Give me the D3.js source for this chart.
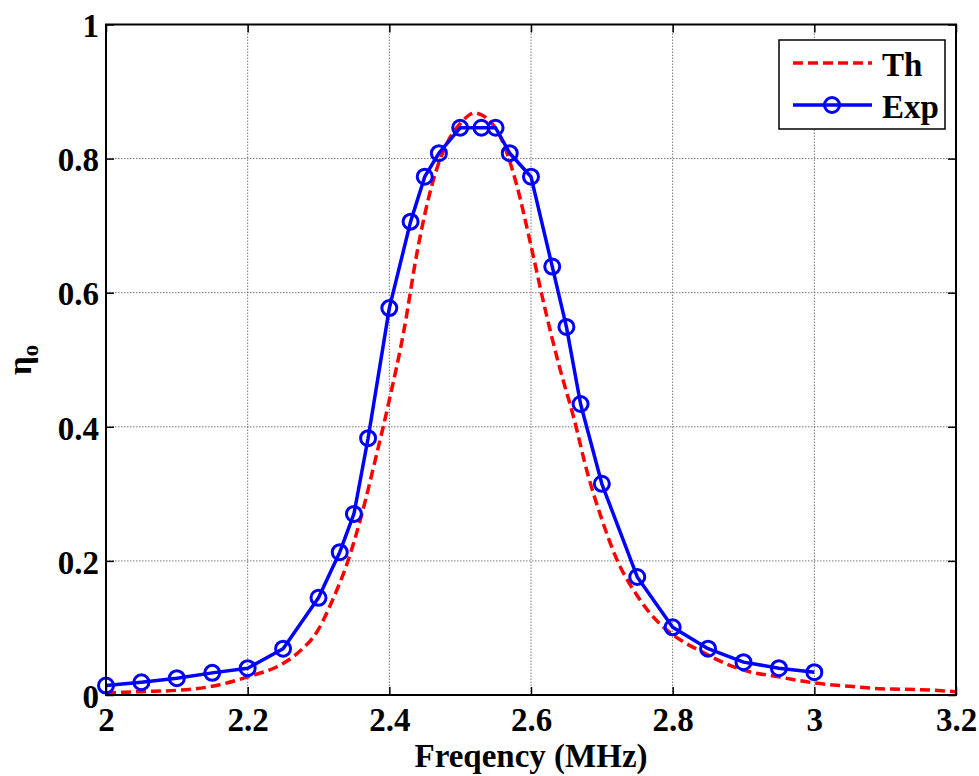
<!DOCTYPE html>
<html>
<head>
<meta charset="utf-8">
<script src="https://cdn.jsdelivr.net/npm/d3@7"></script>
<style>
  html, body { margin: 0; padding: 0; background: #fff; }
  svg { display: block; }
  text { font-family: "Liberation Serif", "Times New Roman", serif; font-weight: bold; fill: #000; }
</style>
</head>
<body>
<svg id="chart" width="979" height="776"></svg>
<script>
// ---- data ----
const expFreq = [2.00, 2.05, 2.10, 2.15, 2.20, 2.25, 2.30, 2.33, 2.35, 2.37, 2.40, 2.43, 2.45, 2.47, 2.50, 2.53, 2.55, 2.57, 2.60, 2.63, 2.65, 2.67, 2.70, 2.75, 2.80, 2.85, 2.90, 2.95, 3.00];
const expEta  = [0.014, 0.019, 0.025, 0.033, 0.040, 0.069, 0.145, 0.213, 0.270, 0.383, 0.577, 0.706, 0.773, 0.808, 0.846, 0.846, 0.846, 0.808, 0.773, 0.639, 0.549, 0.434, 0.315, 0.176, 0.101, 0.069, 0.049, 0.040, 0.034];
const thFreq  = [2.00, 2.05, 2.10, 2.15, 2.20, 2.25, 2.27, 2.30, 2.32, 2.34, 2.36, 2.38, 2.40, 2.42, 2.44, 2.46, 2.48, 2.50, 2.52, 2.54, 2.56, 2.58, 2.60, 2.62, 2.64, 2.66, 2.68, 2.70, 2.72, 2.75, 2.78, 2.80, 2.84, 2.90, 2.95, 3.00, 3.05, 3.10, 3.15, 3.20];
const thEta   = [0.003, 0.005, 0.007, 0.013, 0.027, 0.047, 0.062, 0.098, 0.142, 0.195, 0.265, 0.350, 0.440, 0.540, 0.665, 0.760, 0.820, 0.852, 0.868, 0.858, 0.825, 0.760, 0.670, 0.575, 0.490, 0.415, 0.330, 0.262, 0.205, 0.148, 0.108, 0.090, 0.065, 0.037, 0.027, 0.018, 0.013, 0.009, 0.008, 0.005];
const xTicks = [2, 2.2, 2.4, 2.6, 2.8, 3, 3.2];
const yTicks = [0, 0.2, 0.4, 0.6, 0.8, 1];
const xTickLabels = ["2", "2.2", "2.4", "2.6", "2.8", "3", "3.2"];
const yTickLabels = ["0", "0.2", "0.4", "0.6", "0.8", "1"];
const legendLabels = ["Th", "Exp"];

// ---- layout ----
const L = 106, R = 956, T = 24.5, B = 695;
const FS = "33px";
const svg = d3.select("#chart");
const x = d3.scaleLinear().domain([2, 3.2]).range([L, R]);
const y = d3.scaleLinear().domain([0, 1]).range([B, T]);

// grid
const grid = svg.append("g");
grid.selectAll("line.gx").data(xTicks.slice(1, -1)).enter().append("line")
  .attr("x1", d => x(d)).attr("x2", d => x(d)).attr("y1", T).attr("y2", B)
  .attr("stroke", "#555").attr("stroke-width", 0.8).attr("stroke-dasharray", "1.5,1.5");
grid.selectAll("line.gy").data(yTicks.slice(1, -1)).enter().append("line")
  .attr("x1", L).attr("x2", R).attr("y1", d => y(d)).attr("y2", d => y(d))
  .attr("stroke", "#555").attr("stroke-width", 0.8).attr("stroke-dasharray", "1.5,1.5");

// theory line
const thData = thFreq.map((f, i) => [f, thEta[i]]);
svg.append("path").datum(thData)
  .attr("fill", "none").attr("stroke", "#ff0000").attr("stroke-width", 3.5)
  .attr("stroke-dasharray", "10,5")
  .attr("d", d3.line().x(d => x(d[0])).y(d => y(d[1])).curve(d3.curveMonotoneX));

// experiment line
const expData = expFreq.map((f, i) => [f, expEta[i]]);
svg.append("path").datum(expData)
  .attr("fill", "none").attr("stroke", "#0000ff").attr("stroke-width", 3.5)
  .attr("stroke-linejoin", "round")
  .attr("d", d3.line().x(d => x(d[0])).y(d => y(d[1])));
svg.selectAll("circle.exp").data(expData).enter().append("circle")
  .attr("cx", d => x(d[0])).attr("cy", d => y(d[1])).attr("r", 7.5)
  .attr("fill", "none").attr("stroke", "#0000ff").attr("stroke-width", 3);

// axes frame
svg.append("rect").attr("x", L).attr("y", T).attr("width", R - L).attr("height", B - T)
  .attr("fill", "none").attr("stroke", "#000").attr("stroke-width", 2);

// ticks (inward) using d3 axes
const tk = 8;
const axB = d3.axisBottom(x).tickValues(xTicks).tickSize(-tk).tickFormat((d, i) => xTickLabels[i]).tickPadding(0);
const axT = d3.axisTop(x).tickValues(xTicks).tickSize(-tk).tickFormat("");
const axLft = d3.axisLeft(y).tickValues(yTicks).tickSize(-tk).tickFormat((d, i) => yTickLabels[i]).tickPadding(0);
const axRt = d3.axisRight(y).tickValues(yTicks).tickSize(-tk).tickFormat("");

function styleAxis(g) {
  g.select(".domain").remove();
  g.selectAll(".tick line").attr("stroke", "#000").attr("stroke-width", 1.5);
  g.selectAll("text").style("font-family", "'Liberation Serif', 'Times New Roman', serif")
    .style("font-weight", "bold").style("font-size", FS).attr("fill", "#000");
}
const gB = svg.append("g").attr("transform", `translate(0,${B})`).call(axB).call(styleAxis);
gB.selectAll("text").attr("y", 36).attr("dy", 0);
svg.append("g").attr("transform", `translate(0,${T})`).call(axT).call(styleAxis);
const gL = svg.append("g").attr("transform", `translate(${L},0)`).call(axLft).call(styleAxis);
gL.selectAll("text").attr("x", -7).attr("dy", "0.37em");
svg.append("g").attr("transform", `translate(${R},0)`).call(axRt).call(styleAxis);

// axis labels
svg.append("text").attr("x", (L + R) / 2).attr("y", 767).attr("text-anchor", "middle")
  .style("font-size", FS).text("Freqency (MHz)");
const yl = svg.append("text").attr("transform", `translate(31,${(T + B) / 2}) rotate(-90)`)
  .attr("text-anchor", "middle").style("font-size", FS);
yl.append("tspan").text("η");
yl.append("tspan").attr("dy", 7).style("font-size", "23px").text("o");

// legend
const lg = svg.append("g");
lg.append("rect").attr("x", 779).attr("y", 40).attr("width", 166).attr("height", 89)
  .attr("fill", "#fff").attr("stroke", "#000").attr("stroke-width", 1.5);
lg.append("line").attr("x1", 793).attr("x2", 872).attr("y1", 63).attr("y2", 63)
  .attr("stroke", "#ff0000").attr("stroke-width", 3.5).attr("stroke-dasharray", "10,5");
lg.append("line").attr("x1", 793).attr("x2", 872).attr("y1", 105).attr("y2", 105)
  .attr("stroke", "#0000ff").attr("stroke-width", 3.5);
lg.append("circle").attr("cx", 832).attr("cy", 105).attr("r", 7.5)
  .attr("fill", "none").attr("stroke", "#0000ff").attr("stroke-width", 3);
lg.append("text").attr("x", 882).attr("y", 76).style("font-size", FS).text(legendLabels[0]);
lg.append("text").attr("x", 882).attr("y", 118).style("font-size", FS).text(legendLabels[1]);
</script>
</body>
</html>
